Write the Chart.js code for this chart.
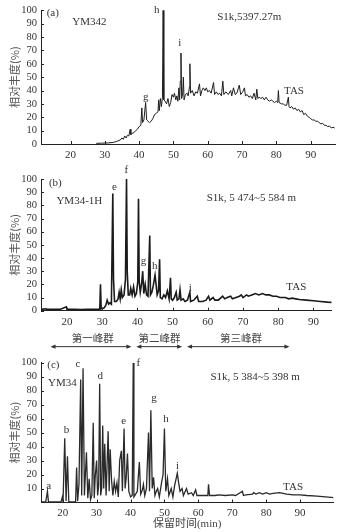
<!DOCTYPE html>
<html><head><meta charset="utf-8">
<script src="https://cdn.jsdelivr.net/npm/chart.js@4/dist/chart.umd.min.js"></script>
<style>
html,body{margin:0;padding:0;background:#fff;}
body{width:349px;height:532px;position:relative;overflow:hidden;}
canvas{position:absolute;left:0;}
</style></head><body>
<canvas id="ca" width="349" height="165" style="top:0;width:349px;height:165px"></canvas>
<canvas id="cb" width="349" height="185" style="top:165px;width:349px;height:185px"></canvas>
<canvas id="cc" width="349" height="182" style="top:350px;width:349px;height:182px"></canvas>
<script>
// ---------- DATA ----------
const timeA = [27.5,29,31,32.5,33.5,34.5,35,35.4,35.8,36.2,36.6,37,37.4,37.6,38,38.5,39,39.5,40,40.5,40.8,41,41.4,41.9,42.2,42.6,43,43.5,44,44.5,45,45.5,45.7,45.9,46.2,46.5,46.8,47,47.2,47.6,48,48.4,48.8,49.2,49.6,50,50.3,50.7,51,51.3,51.6,51.8,52,52.2,52.4,52.7,52.9,53.1,53.5,54,54.3,54.7,54.8,55,55.5,56,56.5,57,57.6,57.9,58.3,58.7,59.2,59.6,60,60.5,61,61.7,62,62.5,63,63.5,64,64.4,64.7,65.3,66,66.7,67,67.5,68,68.5,69.2,69.6,70.2,70.7,71,71.5,72,72.5,73,73.5,74,74.3,74.6,75,75.5,76,76.5,77,77.5,78,78.5,79,79.5,80,80.4,80.6,80.8,81.5,82,82.5,83,83.5,83.7,84,84.5,85,85.5,86,86.5,87,87.5,88,88.5,89,89.5,90,90.5,91,91.5,92,92.5,93,93.5,94,94.5,95,95.5,96,96.5,97];
const abundA = [0.5,0.6,0.8,1.2,2,3,4.5,3.5,6,4.5,6.5,6,11,7,8,8.5,10,11,13,14,27,16,18,31,18,17,16,17,19,22,23,24,33,25,34,28,35,100,33,32,30,34,28,31,37,35,38,33,36,32,42,33,47,68,34,38,50,33,37,38,36,43,60,38,40,36,39,38,45,36,40,42,40,42,39,40,38,46,37,39,37,38,36,47,37,39,37,40,36,42,37,38,44,37,39,42,36,37,35,36,34,38,33,41,34,35,34,35,33,35,33,32,33,32,31,32,31,40,31,30,30,29,29,35,28,27,28,26,27,25,26,24,25,22,23,21,20,19,18,18,17,17,16,15,15.5,14,14,13,13.5,12,12.5,12];

const timeB = [12.6,14,14.3,16,18,19.8,20,22,24,26,28,29.3,29.5,29.7,30.5,31,31.4,31.8,32.2,32.6,33,33.2,33.5,34,34.5,34.8,35.1,35.4,35.7,36.2,36.6,36.9,37.1,37.4,37.8,38.1,38.5,38.9,39.3,39.7,40.1,40.3,40.5,40.8,41.2,41.5,41.8,42.2,42.6,43,43.5,43.7,44.1,44.5,45,45.3,45.6,46,46.3,46.5,47,47.5,48,48.5,49,49.4,49.6,50,50.5,51,51.3,51.8,52.1,52.4,53,53.5,54.2,54.9,55.1,56,57,57.4,58.5,59.5,60.2,60.6,61.5,62,63,64.2,64.8,65.5,66.5,67,68,69,69.5,70,71,71.5,72.5,73.5,74.5,75.5,76.5,77.5,78.5,79.5,80.5,82,83,84,85,86,88,90,92,94,95.2];
const abundB = [1,1.5,1,1,1,3,1,1,0.8,1,1,1,20,1.5,2,4,8,5,6,5,89,24,7,7,9,14,9,16,10,12,24,100,30,12,12,17,12,18,11,13,22,85,22,14,21,30,13,20,12,11,57,12,14,19,27,20,12,15,39,10,9,12,10,15,9,25,9,8,10,14,8,9,16,8,9,7,8,14,7,8,11,7,7,8,11,8,10,8,8,11,9,10,11,9,10,11,12,10,12,11,12,13,12,13,12,12,11,11,10,10,9,9.5,9,8.5,8,7.5,7,6.5,6.3];

const timeC = [13.6,15,15.5,15.8,19.5,19.9,20.1,20.6,21,21.4,21.8,23.8,24.1,24.4,24.8,25.3,25.6,26,26.4,27,27.4,27.8,28.2,28.6,29,29.3,29.6,30,30.3,30.6,30.9,31.2,31.5,31.8,32.1,32.4,32.8,33.4,33.7,34,34.4,34.8,35.2,35.6,36,36.4,36.8,37.3,37.6,38.1,38.4,38.7,39.1,39.5,40,40.5,40.8,41,41.5,42,42.6,43,43.5,43.8,44.2,44.7,45.3,45.6,46,46.4,46.8,47.2,47.6,48,48.5,49.2,49.6,50,50.4,50.9,51.3,52,52.5,53,53.8,54.2,54.6,55.2,55.6,56.5,57,58,58.5,59.2,59.6,60.5,62,62.8,63,63.3,65,66,68,70,71,73,73.3,74,76,76.3,77,78,79,80,81,82,84,85,86,88,90,92,95,100];
const abundC = [0.5,0.5,8,0.5,0.5,4,0.5,46,1,33,0.5,0.5,25,1,13,88,5,96,5,36,3,17,2,5,57,3,19,30,5,12,85,5,10,55,10,42,5,51,8,38,16,5,15,8,14,4,30,37,8,53,10,17,35,8,4,5,100,4,6,8,29,6,9,13,5,10,50,8,66,10,18,5,8,10,4,15,20,53,8,17,5,10,4,12,21,14,8,10,5,10,6,7,5,9,5,5,5,5,13,5,5,5.5,5,5.5,5,8,5,5.5,6,7,6,7,6,7,6,6.5,7,6.5,6,5.5,5.5,5,4.5,3.5];

const xTicksA = [20,30,40,50,60,70,80,90];
const yTicksA = [0,10,20,30,40,50,60,70,80,90,100];
const xTicksB = [20,30,40,50,60,70,80,90];
const yTicksB = [0,10,20,30,40,50,60,70,80,90,100];
const xTicksC = [20,30,40,50,60,70,80,90];
const yTicksC = [10,20,30,40,50,60,70,80,90,100];

const peaksA = ['g','h','i'];
const peaksB = ['e','f','g','h','i'];
const peaksC = ['a','b','c','d','e','f','g','h','i'];
const groupNames = ['第一峰群','第二峰群','第三峰群'];
const yTitle = '相对丰度(%)';
const xTitle = '保留时间(min)';

// ---------- DRAWING ----------
const SERIF = "'Liberation Serif','Noto Sans CJK SC',serif";
const TXT = '#333';

// label positions (in chart value space) for each text
const annA = [
  {t:'(a)', at:[14.84,97.8]},{t:'YM342', at:[25.48,91.0]},{t:'S1k,5397.27m', at:[72.13,94.8]},
  {t:'TAS', at:[85.15,39.6]},
  {t:peaksA[0], at:[41.95,35.1]},{t:peaksA[1], at:[45.16,100]},{t:peaksA[2], at:[51.87,75.4]}
];
const annB = [
  {t:'(b)', at:[16.68,97.2]},{t:'YM34-1H', at:[23.49,83.5]},{t:'S1k, 5 474~5 584 m', at:[72.36,85.8]},
  {t:'TAS', at:[85.14,18.2]},
  {t:peaksB[0], at:[33.44,94.2]},{t:peaksB[1], at:[36.85,106.8]},{t:peaksB[2], at:[41.76,37.7]},
  {t:peaksB[3], at:[44.89,33.9]},{t:peaksB[4], at:[55.03,17.5]}
];
const arrowsB = [
  {t:groupNames[0], from:15.3, to:38.3, mid:27.3},
  {t:groupNames[1], from:39.7, to:52.7, mid:46.3},
  {t:groupNames[2], from:54.1, to:83.2, mid:69.4}
];
const annC = [
  {t:'(c)', at:[17.26,98.4]},{t:'YM34', at:[19.9,85.3]},{t:'S1k, 5 384~5 398 m', at:[76.74,90]},
  {t:'TAS', at:[87.93,11.3]},
  {t:peaksC[0], at:[15.88,11.8]},{t:peaksC[1], at:[21.09,51.9]},{t:peaksC[2], at:[24.53,99.1]},
  {t:peaksC[3], at:[31.1,90.5]},{t:peaksC[4], at:[37.96,58.3]},{t:peaksC[5], at:[42.29,100]},
  {t:peaksC[6], at:[46.91,74.5]},{t:peaksC[7], at:[50.45,59.9]},{t:peaksC[8], at:[53.86,26.1]}
];

function decor(ann, arrows){
  return {
    id:'decor',
    afterDraw(chart){
      const ctx = chart.ctx, xs = chart.scales.x, ys = chart.scales.y;
      ctx.save();
      // inward tick marks
      ctx.strokeStyle = '#222'; ctx.lineWidth = 1;
      ctx.beginPath();
      xs.ticks.forEach(t=>{ const p=Math.round(xs.getPixelForValue(t.value))+0.5; ctx.moveTo(p, ys.bottom); ctx.lineTo(p, ys.bottom-3); });
      ys.ticks.forEach(t=>{ const p=Math.round(ys.getPixelForValue(t.value))+0.5; ctx.moveTo(xs.left, p); ctx.lineTo(xs.left+3, p); });
      ctx.stroke();
      ctx.fillStyle = TXT; ctx.textAlign='center'; ctx.textBaseline='middle';
      ctx.font = "11px " + SERIF;
      ann.forEach(a=>{ ctx.fillText(a.t, xs.getPixelForValue(a.at[0]), ys.getPixelForValue(a.at[1])); });
      if (arrows){
        const yA = ys.getPixelForValue(-27.3), yL = ys.getPixelForValue(-21);
        ctx.font = "10.5px 'Noto Sans CJK SC',sans-serif";
        ctx.fillStyle = '#444';
        arrows.forEach(a=>{
          const x1 = xs.getPixelForValue(a.from), x2 = xs.getPixelForValue(a.to);
          ctx.strokeStyle='#333'; ctx.lineWidth=1;
          ctx.beginPath(); ctx.moveTo(x1+2,yA); ctx.lineTo(x2-2,yA); ctx.stroke();
          ctx.beginPath(); ctx.moveTo(x1,yA); ctx.lineTo(x1+5,yA-2.2); ctx.lineTo(x1+5,yA+2.2); ctx.closePath(); ctx.fillStyle='#333'; ctx.fill();
          ctx.beginPath(); ctx.moveTo(x2,yA); ctx.lineTo(x2-5,yA-2.2); ctx.lineTo(x2-5,yA+2.2); ctx.closePath(); ctx.fill();
          ctx.fillStyle='#444';
          ctx.fillText(a.t, xs.getPixelForValue(a.mid), yL);
        });
      }
      ctx.restore();
    }
  };
}

function make(id, o){
  const pts = o.time.map((t,i)=>({x:t, y:o.val[i]}));
  return new Chart(document.getElementById(id), {
    type:'line',
    data:{datasets:[{data:pts, borderColor:o.color, borderWidth:o.lw, pointRadius:0, tension:0, fill:false}]},
    options:{
      responsive:false, animation:false, parsing:true,
      layout:{padding:o.pad},
      plugins:{legend:{display:false}, tooltip:{enabled:false}},
      scales:{
        x:{type:'linear', min:o.xMin, max:o.xMax,
          afterBuildTicks:s=>{s.ticks=o.xTicks.map(v=>({value:v}));},
          afterFit:s=>{s.height=o.xH;},
          grid:{display:false, drawTicks:false},
          border:{display:true, color:'#222', width:1},
          ticks:{font:{family:SERIF, size:11}, color:TXT, padding:o.xPad, maxRotation:0, autoSkip:false},
          title:o.xTitle ? {display:true, text:o.xTitle, color:'#444', font:{family:SERIF, size:11}, padding:{top:0,bottom:1.4}} : {display:false}
        },
        y:{type:'linear', min:0, max:100,
          afterBuildTicks:s=>{s.ticks=o.yTicks.map(v=>({value:v}));},
          afterFit:s=>{s.width=o.yW;},
          grid:{display:false, drawTicks:false},
          border:{display:true, color:'#222', width:1},
          ticks:{font:{family:SERIF, size:10.5}, color:TXT, padding:4, autoSkip:false},
          title:{display:true, text:yTitle, color:'#555', font:{family:"'Noto Sans CJK SC',sans-serif", size:11}, padding:{top:8.4,bottom:0}}
        }
      }
    },
    plugins:[decor(o.ann, o.arrows)]
  });
}

make('ca', {time:timeA, val:abundA, xMin:11.4, xMax:97.1, xTicks:xTicksA, yTicks:yTicksA,
  pad:{left:0, top:10, right:14, bottom:0}, xH:21, yW:41, xPad:5, color:'#1e1e1e', lw:1, ann:annA});
make('cb', {time:timeB, val:abundB, xMin:12.6, xMax:95.2, xTicks:xTicksB, yTicks:yTicksB,
  pad:{left:0, top:14, right:17.3, bottom:0}, xH:39.3, yW:41, xPad:5, color:'#1a1a1a', lw:1.6, ann:annB, arrows:arrowsB});
make('cc', {time:timeC, val:abundC, xMin:13.6, xMax:99.8, xTicks:xTicksC, yTicks:yTicksC,
  pad:{left:0, top:12.7, right:15.7, bottom:0}, xH:29.5, yW:41, xPad:4, color:'#2a2a2a', lw:1.3, ann:annC, xTitle:xTitle});
</script>
</body></html>
